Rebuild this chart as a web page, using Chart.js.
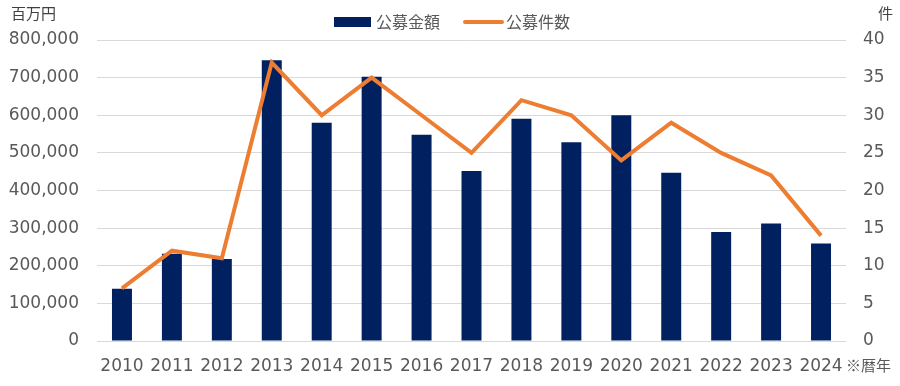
<!DOCTYPE html>
<html>
<head>
<meta charset="utf-8">
<script src="https://cdn.jsdelivr.net/npm/chart.js@4/dist/chart.umd.min.js"></script>
<style>
html,body{margin:0;padding:0;background:#fff;}
#wrap{width:900px;height:386px;position:relative;}
</style>
</head>
<body>
<div id="wrap"><canvas id="c" width="900" height="386"></canvas></div>
<script>
const years = ["2010","2011","2012","2013","2014","2015","2016","2017","2018","2019","2020","2021","2022","2023","2024"];
const amount = [139000,232000,218000,746000,580000,702000,548000,452000,591000,528000,600000,447000,290000,312000,259000];
const counts = [7,12,11,37,30,35,30,25,32,30,24,29,25,22,14];
const seriesNames = ["公募金額","公募件数"];
const leftUnit = "百万円";
const rightUnit = "件";
const xNote = "※暦年";

const NAVY = "#002060";
const ORANGE = "#ED7D31";
const TXT = "#595959";
const FONT = '"DejaVu Sans", "Noto Sans CJK JP", sans-serif';
const CJK = '"Noto Sans CJK JP", sans-serif';

const extras = {
  id: "extras",
  afterDraw(chart) {
    const ctx = chart.ctx;
    ctx.save();
    ctx.fillStyle = "#404040";
    ctx.font = "15px " + CJK;
    ctx.textBaseline = "middle";
    ctx.textAlign = "left";
    ctx.fillText(leftUnit, 11, 13);
    ctx.fillText(rightUnit, 878, 13);
    ctx.fillStyle = TXT;
    ctx.fillText(xNote, 846, 365);
    // legend
    ctx.font = "16px " + CJK;
    ctx.fillStyle = NAVY;
    ctx.fillRect(334, 17, 37, 10);
    ctx.fillStyle = TXT;
    ctx.fillText(seriesNames[0], 376, 22);
    ctx.strokeStyle = ORANGE;
    ctx.lineWidth = 4;
    ctx.lineCap = "round";
    ctx.beginPath();
    ctx.moveTo(465, 22);
    ctx.lineTo(502, 22);
    ctx.stroke();
    ctx.fillText(seriesNames[1], 506, 22);
    ctx.restore();
  }
};

new Chart(document.getElementById("c"), {
  data: {
    labels: years,
    datasets: [
      {
        type: "line",
        label: seriesNames[1],
        data: counts,
        yAxisID: "y1",
        borderColor: ORANGE,
        backgroundColor: ORANGE,
        borderWidth: 4,
        pointRadius: 0,
        tension: 0,
        order: 0
      },
      {
        type: "bar",
        label: seriesNames[0],
        data: amount,
        yAxisID: "y",
        backgroundColor: NAVY,
        barPercentage: 0.4,
        categoryPercentage: 1,
        order: 1
      }
    ]
  },
  options: {
    responsive: false,
    animation: false,
    devicePixelRatio: 1,
    layout: { padding: { top: 40, left: 9, right: 15, bottom: 0 } },
    plugins: { legend: { display: false }, tooltip: { enabled: false } },
    scales: {
      x: {
        offset: true,
        grid: { display: false, drawTicks: false },
        border: { display: false },
        ticks: { color: TXT, font: { family: FONT, size: 17 }, padding: 15, maxRotation: 0, autoSkip: false },
        afterFit(s) { s.height = 45; }
      },
      y: {
        position: "left",
        min: 0, max: 800000,
        grid: { color: "#D9D9D9", lineWidth: 1, drawTicks: false },
        border: { display: false },
        ticks: {
          stepSize: 100000, color: TXT, padding: 18,
          font: { family: FONT, size: 17 },
          callback: v => v.toLocaleString("en-US")
        },
        afterFit(s) { s.width = 88; }
      },
      y1: {
        position: "right",
        min: 0, max: 40,
        grid: { display: false, drawTicks: false },
        border: { display: false },
        ticks: { stepSize: 5, color: TXT, padding: 17, font: { family: FONT, size: 17 } },
        afterFit(s) { s.width = 39; }
      }
    }
  },
  plugins: [extras]
});
</script>
</body>
</html>
